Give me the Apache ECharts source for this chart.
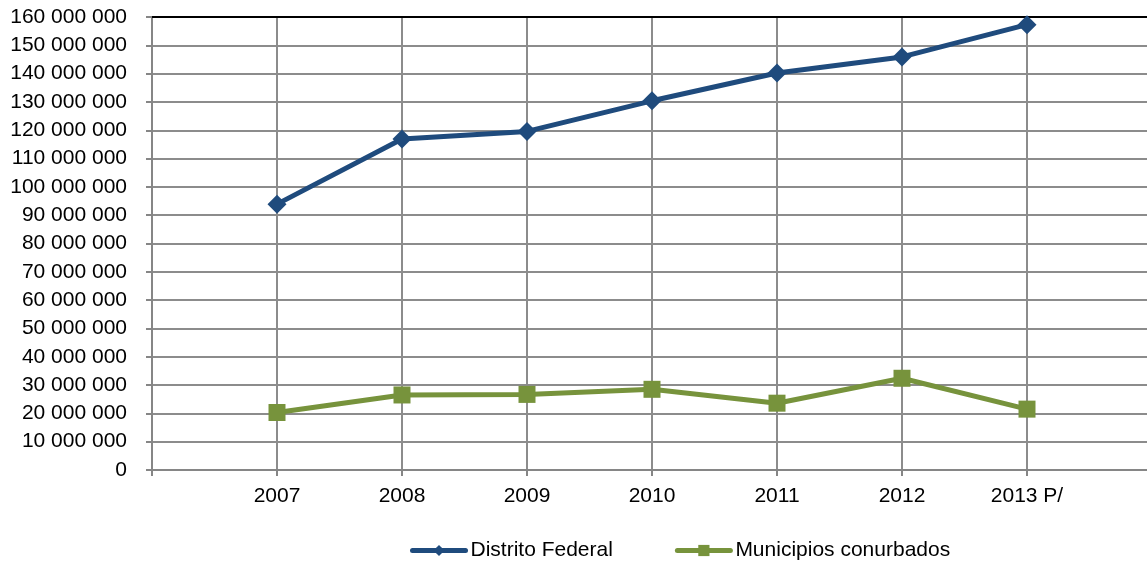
<!DOCTYPE html>
<html>
<head>
<meta charset="utf-8">
<script src="https://cdn.jsdelivr.net/npm/echarts@6/dist/echarts.min.js"></script>
<style>
    html, body { margin: 0; padding: 0; background: #fff; }
    #chart { width: 1147px; height: 566px; }
</style>
</head>
<body>
<div id="chart"></div>
<script>
// 年份
var years = ['2007', '2008', '2009', '2010', '2011', '2012', '2013 P/'];
// 系列数据
var distritoFederal = [93900000, 116900000, 119600000, 130400000, 140200000, 145900000, 157300000];
var municipiosConurbados = [20300000, 26500000, 26700000, 28500000, 23600000, 32400000, 21500000];
// y 轴刻度
var yMin = 0, yMax = 160000000, yStep = 10000000;
// x 轴范围 (年份位于 1..7, 右侧被裁切)
var xMin = 0, xMax = 7.96;

var FONT = '"Liberation Sans", Arial, sans-serif';

// 刻度位置: 0 与每个年份
var xTicks = [0].concat(years.map(function (y, i) { return i + 1; }));

// 年份序号 -> [x, y]
function toPoints (arr) {
    return arr.map(function (v, i) {
        return [i + 1, v];
    });
}

// 千位空格分隔
function fmt (v) {
    return String(v).replace(/\B(?=(\d{3})+(?!\d))/g, ' ');
}

function yearLabel (v) {
    var i = Math.round(v) - 1;
    if (Math.abs(v - Math.round(v)) > 1e-6) {
        return '';
    }
    return years[i] || '';
}

var chart = echarts.init(document.getElementById('chart'));

chart.setOption({
    animation: false,
    textStyle: { fontFamily: FONT },
    grid: { left: 152, right: 0, top: 17, bottom: 96 },
    legend: {
        left: 405,
        top: 535,
        itemWidth: 53,
        itemHeight: 14,
        itemGap: 62,
        lineStyle: { width: 5, cap: 'round' },
        textStyle: { fontFamily: FONT, fontSize: 21, color: '#000' },
        data: ['Distrito Federal', 'Municipios conurbados']
    },
    xAxis: [{
        type: 'value',
        min: xMin,
        max: xMax,
        interval: 1,
        axisLine: { lineStyle: { color: '#868686', width: 2 } },
        axisTick: { show: true, length: 6, inside: false, customValues: xTicks, lineStyle: { color: '#868686', width: 2 } },
        axisLabel: { margin: 16, fontSize: 21, color: '#000', fontFamily: FONT, formatter: yearLabel, customValues: xTicks },
        splitLine: { show: true, lineStyle: { color: '#8c8c8c', width: 2 } }
    }, {
        // 顶部黑色边线
        type: 'value',
        position: 'top',
        min: xMin,
        max: xMax,
        interval: 1,
        axisLine: { show: true, lineStyle: { color: '#000', width: 2 } },
        axisTick: { show: false },
        axisLabel: { show: false },
        splitLine: { show: false }
    }],
    yAxis: {
        type: 'value',
        min: yMin,
        max: yMax,
        interval: yStep,
        axisLine: { show: true, lineStyle: { color: '#868686', width: 2 } },
        axisTick: { show: true, length: 6, lineStyle: { color: '#868686', width: 2 } },
        axisLabel: { margin: 25, fontSize: 21, color: '#000', fontFamily: FONT, formatter: fmt },
        splitLine: { show: true, lineStyle: { color: '#8c8c8c', width: 2 } }
    },
    series: [{
        name: 'Distrito Federal',
        type: 'line',
        data: toPoints(distritoFederal),
        symbol: 'diamond',
        symbolSize: 19,
        color: '#1f4b7d',
        lineStyle: { width: 5, color: '#1f4b7d' },
        itemStyle: { color: '#1f4b7d' },
        z: 3
    }, {
        name: 'Municipios conurbados',
        type: 'line',
        data: toPoints(municipiosConurbados),
        symbol: 'rect',
        symbolSize: 17,
        color: '#77933c',
        lineStyle: { width: 5, color: '#77933c' },
        itemStyle: { color: '#77933c' },
        z: 3
    }]
});
</script>
</body>
</html>
